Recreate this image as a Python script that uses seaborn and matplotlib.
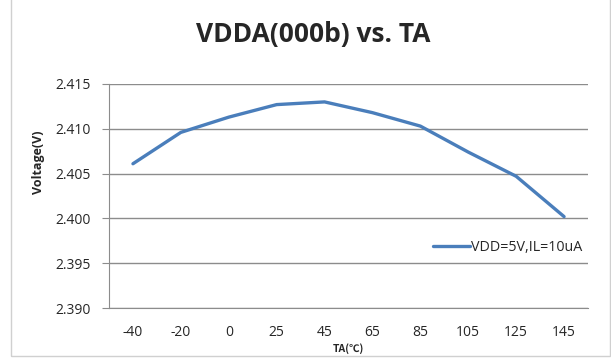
import matplotlib
matplotlib.use("Agg")
import matplotlib.pyplot as plt
import seaborn as sns
import pandas as pd

temps = ["-40", "-20", "0", "25", "45", "65", "85", "105", "125", "145"]
voltage = [2.4061, 2.4096, 2.4113, 2.4127, 2.4130, 2.4118, 2.4103, 2.4074, 2.4047, 2.4002]
series_name = "VDD=5V,IL=10uA"

sns.set_style("white")
plt.rcParams['font.family'] = ['Open Sans', 'DejaVu Sans']

df = pd.DataFrame({"TA": temps, "Voltage": voltage})

fig = plt.figure(figsize=(6.11, 3.6), dpi=100)
ax = fig.add_axes([0.1784, 0.1444, 0.7840, 0.6223])

sns.lineplot(data=df, x="TA", y="Voltage", ax=ax, sort=False, color="#4A7EBB",
             linewidth=2.4, label=series_name)

yt = [2.390, 2.395, 2.400, 2.405, 2.410, 2.415]
ax.set_xlim(-0.5, 9.5)
ax.set_ylim(2.390, 2.415)
ax.set_yticks(yt)
ax.set_yticklabels([f"{v:.3f}" for v in yt])
ax.grid(axis="y", color="#8C8C8C", linewidth=1)
ax.set_axisbelow(True)

for s in ["top", "right"]:
    ax.spines[s].set_visible(False)
ax.spines["left"].set_color("#8C8C8C")
ax.spines["bottom"].set_color("#8C8C8C")
ax.tick_params(axis="y", left=True, length=5, color="#8C8C8C", labelsize=10, pad=8)
ax.tick_params(axis="x", bottom=False, labelsize=10, pad=9)

ax.set_xlabel("TA(℃)", fontsize=7.5, fontweight="bold", labelpad=2,
              family=['Noto Sans CJK SC', 'DejaVu Sans'])
ax.set_ylabel("Voltage(V)", fontsize=9, fontweight="bold", va="center")
ax.yaxis.set_label_coords(-0.148, 0.652)

fig.suptitle("VDDA(000b) vs. TA", fontsize=19, fontweight="bold", x=0.512, y=0.905, va="center")

ax.legend(loc="lower right", bbox_to_anchor=(1.0, 0.21), frameon=False, fontsize=10.3,
          handlelength=2.6, handletextpad=0.05, borderaxespad=0)

border = plt.Rectangle((0.018, 0.01), 0.98, 1.1, transform=fig.transFigure, fill=False,
                       edgecolor="#D0D0D0", linewidth=1)
fig.add_artist(border)

fig.savefig("out.png", dpi=100)
